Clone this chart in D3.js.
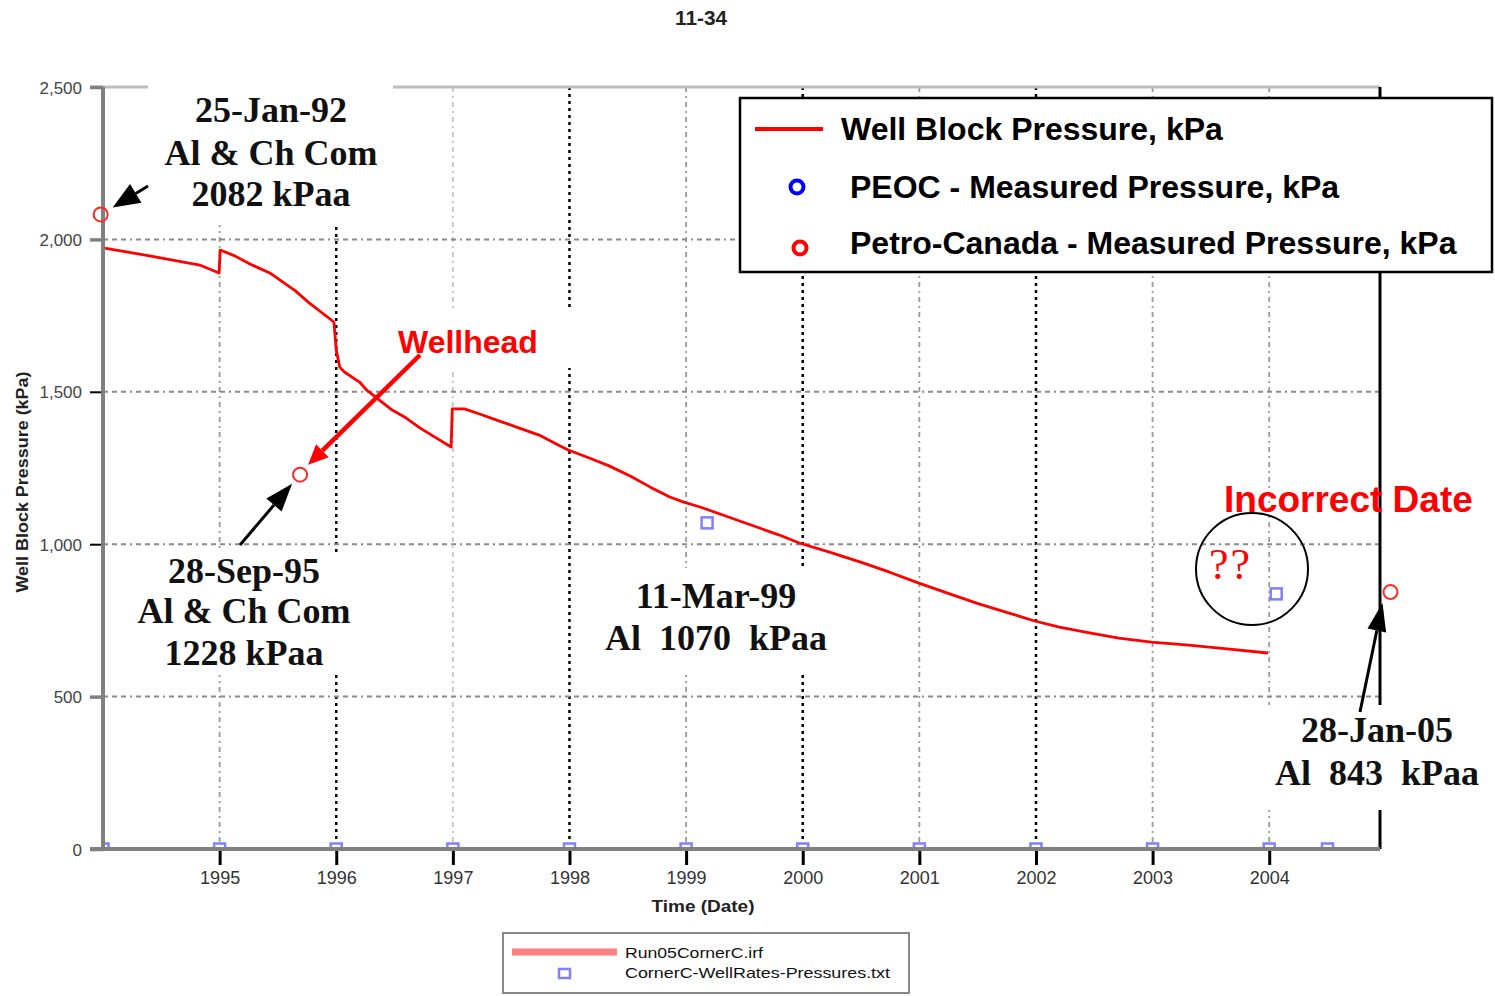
<!DOCTYPE html>
<html>
<head>
<meta charset="utf-8">
<script src="https://cdn.jsdelivr.net/npm/d3@7"></script>
<style>
  body { margin: 0; background: #fff; }
  svg { display: block; }
  .serif { font-family: "Liberation Serif", "Times New Roman", serif; font-weight: bold; white-space: pre; }
  .sans { font-family: "Liberation Sans", Arial, sans-serif; }
</style>
</head>
<body>
<svg id="chart" width="1495" height="996"></svg>
<script>
// Simulated well block pressure, decimal year vs kPa
const blockTime = [1994.00, 1994.40, 1994.83, 1994.995, 1995.005, 1995.13, 1995.26, 1995.43, 1995.65, 1995.77,
  1995.98, 1996.00, 1996.03, 1996.07, 1996.20, 1996.26, 1996.37, 1996.48, 1996.60, 1996.72,
  1996.86, 1996.985, 1996.995, 1997.10, 1997.23, 1997.40, 1997.57, 1997.74, 1997.92, 1997.99,
  1998.17, 1998.34, 1998.52, 1998.69, 1998.86, 1998.98, 1999.12, 1999.29, 1999.46, 1999.63,
  1999.80, 1999.97, 2000.23, 2000.49, 2000.74, 2000.99, 2001.26, 2001.51, 2001.77, 2001.99,
  2002.20, 2002.46, 2002.71, 2002.99, 2003.31, 2003.66, 2003.99];
const blockPressure = [1972, 1946, 1916, 1890, 1965, 1946, 1919, 1890, 1831, 1791,
  1729, 1637, 1581, 1565, 1532, 1506, 1473, 1440, 1414, 1381,
  1348, 1319, 1444, 1444, 1427, 1404, 1381, 1358, 1322, 1309,
  1283, 1257, 1224, 1188, 1155, 1138, 1122, 1099, 1076, 1053,
  1030, 1004, 974, 942, 909, 873, 837, 804, 774, 748,
  728, 709, 692, 679, 669, 656, 643];

// PEOC measured pressures (CornerC-WellRates-Pressures.txt)
const peocTime = [1994.0, 1995, 1996, 1997, 1998, 1999, 2000, 2001, 2002, 2003, 2004, 2004.5, 1999.18, 2004.06];
const peocPressure = [0, 0, 0, 0, 0, 0, 0, 0, 0, 0, 0, 0, 1070, 837];

// Petro-Canada measured pressures
const pcTime = [1993.98, 1995.69, 2005.04];
const pcPressure = [2082, 1228, 843];

// Axis ticks
const yearTicks = [1995, 1996, 1997, 1998, 1999, 2000, 2001, 2002, 2003, 2004];
const majorGridYears = [1996, 1998, 2000, 2002];
const pressureTicks = [0, 500, 1000, 1500, 2000, 2500];

// Legend labels
const legendLabels = ["Well Block Pressure, kPa", "PEOC - Measured Pressure, kPa", "Petro-Canada - Measured Pressure, kPa"];
const fileLabels = ["Run05CornerC.irf", "CornerC-WellRates-Pressures.txt"];

const svg = d3.select("#chart");
const x = d3.scaleLinear().domain([1994, 2004.95]).range([103, 1380]);
const y = d3.scaleLinear().domain([0, 2500]).range([849, 87]);
const [xL, xR] = x.range();
const [yB, yT] = y.range();

svg.append("defs").append("clipPath").attr("id", "plot")
  .append("rect").attr("x", xL).attr("y", yT).attr("width", xR - xL).attr("height", yB - yT);

// Vertical grid
svg.append("g").selectAll("line").data(yearTicks).join("line")
  .attr("x1", d => x(d)).attr("x2", d => x(d))
  .attr("y1", yT).attr("y2", yB)
  .attr("stroke", d => majorGridYears.includes(d) ? "#000" : (d === 1997 ? "#c4c4c4" : "#9a9a9a"))
  .attr("stroke-width", d => majorGridYears.includes(d) ? 2.5 : 1.8)
  .attr("stroke-dasharray", d => majorGridYears.includes(d) ? "3,4" : "5,4,2,4");

// Horizontal grid
svg.append("g").selectAll("line").data(pressureTicks.filter(v => v > 0 && v < 2500)).join("line")
  .attr("x1", xL).attr("x2", xR)
  .attr("y1", d => y(d)).attr("y2", d => y(d))
  .attr("stroke", "#8a8a8a").attr("stroke-width", 2)
  .attr("stroke-dasharray", "5,4,5,4,5,4,2,4");

// Top border
svg.append("line").attr("x1", 90).attr("x2", xR).attr("y1", yT).attr("y2", yT)
  .attr("stroke", "#bdbdbd").attr("stroke-width", 3);

// Right border
svg.append("line").attr("x1", xR).attr("x2", xR).attr("y1", yT).attr("y2", yB)
  .attr("stroke", "#000").attr("stroke-width", 3);

// White backgrounds behind annotation text
const boxes = [[148, 80, 245, 145], [345, 310, 235, 58], [130, 552, 232, 123], [600, 568, 232, 107], [1265, 705, 225, 105]];
svg.append("g").selectAll("rect").data(boxes).join("rect")
  .attr("x", d => d[0]).attr("y", d => d[1]).attr("width", d => d[2]).attr("height", d => d[3])
  .attr("fill", "#fff");

// Legend (top right)
const lg = svg.append("g");
lg.append("rect").attr("x", 740).attr("y", 98).attr("width", 752).attr("height", 174)
  .attr("fill", "#fff").attr("stroke", "#000").attr("stroke-width", 2.5);
lg.append("line").attr("x1", 755).attr("x2", 823).attr("y1", 129).attr("y2", 129)
  .attr("stroke", "#ff0000").attr("stroke-width", 4);
lg.append("circle").attr("cx", 797).attr("cy", 187).attr("r", 6.5)
  .attr("fill", "none").attr("stroke", "#0000ff").attr("stroke-width", 4);
lg.append("circle").attr("cx", 800).attr("cy", 248).attr("r", 6.5)
  .attr("fill", "none").attr("stroke", "#ff0000").attr("stroke-width", 4);
lg.selectAll("text").data(legendLabels).join("text")
  .attr("class", "sans")
  .attr("x", (d, i) => i === 0 ? 841 : 850)
  .attr("y", (d, i) => [140, 198, 254][i])
  .attr("font-size", 32).attr("font-weight", "bold").attr("fill", "#000")
  .text(d => d);

// Data
const plot = svg.append("g").attr("clip-path", "url(#plot)");
const line = d3.line().x(d => x(d[0])).y(d => y(d[1]));
plot.append("path")
  .datum(blockTime.map((t, i) => [t, blockPressure[i]]))
  .attr("d", line).attr("fill", "none")
  .attr("stroke", "#ff0000").attr("stroke-width", 2.8).attr("stroke-linejoin", "round");

plot.selectAll("rect.peoc").data(peocTime.map((t, i) => [t, peocPressure[i]])).join("rect")
  .attr("class", "peoc")
  .attr("x", d => x(d[0]) - 5.5).attr("y", d => y(d[1]) - 5.5)
  .attr("width", 11).attr("height", 11)
  .attr("fill", "#fff").attr("stroke", "#8080ff").attr("stroke-width", 2.5);

// Axes
const yAxis = svg.append("g").attr("transform", `translate(${xL},0)`)
  .call(d3.axisLeft(y).tickValues(pressureTicks).tickFormat(d3.format(",")).tickSize(13).tickPadding(8));
yAxis.select(".domain").remove();
yAxis.selectAll(".tick line")
  .attr("stroke", d => (d === 1000 || d === 1500) ? "#000" : "#808080")
  .attr("stroke-width", d => (d === 1000 || d === 1500) ? 2 : 3.5);
yAxis.selectAll(".tick text")
  .attr("class", "sans").attr("font-size", 17).attr("fill", "#444").attr("dy", "0.36em");

const xAxis = svg.append("g").attr("transform", `translate(0,${yB})`)
  .call(d3.axisBottom(x).tickValues(yearTicks).tickFormat(d3.format("d")).tickSize(16).tickPadding(6));
xAxis.select(".domain").remove();
xAxis.selectAll(".tick line").attr("stroke", "#000").attr("stroke-width", 3);
xAxis.selectAll(".tick text")
  .attr("class", "sans").attr("font-size", 18).attr("fill", "#333");

svg.append("line").attr("x1", xL).attr("x2", xL).attr("y1", yT).attr("y2", yB)
  .attr("stroke", "#808080").attr("stroke-width", 4);
svg.append("line").attr("x1", 90).attr("x2", xR).attr("y1", yB).attr("y2", yB)
  .attr("stroke", "#808080").attr("stroke-width", 4);

// Petro-Canada measurements
svg.append("g").selectAll("circle").data(pcTime.map((t, i) => [t, pcPressure[i]])).join("circle")
  .attr("cx", d => x(d[0])).attr("cy", d => y(d[1])).attr("r", 7)
  .attr("fill", "none").attr("stroke", "#ff2a2a").attr("stroke-width", 2);

// Axis titles and title
svg.append("text").attr("class", "sans").attr("x", 701).attr("y", 25)
  .attr("text-anchor", "middle").attr("font-size", 21).attr("font-weight", "bold").attr("fill", "#222")
  .attr("textLength", 52).attr("lengthAdjust", "spacingAndGlyphs").text("11-34");
svg.append("text").attr("class", "sans").attr("x", 703).attr("y", 912)
  .attr("text-anchor", "middle").attr("font-size", 16).attr("font-weight", "bold").attr("fill", "#222")
  .attr("textLength", 103).attr("lengthAdjust", "spacingAndGlyphs").text("Time (Date)");
svg.append("text").attr("class", "sans")
  .attr("transform", "translate(28,482) rotate(-90)")
  .attr("text-anchor", "middle").attr("font-size", 16).attr("font-weight", "bold").attr("fill", "#222")
  .attr("textLength", 221).attr("lengthAdjust", "spacingAndGlyphs").text("Well Block Pressure (kPa)");

// Arrows
function arrow(x1, y1, x2, y2, color, width, headLen, headWidth) {
  const a = Math.atan2(y2 - y1, x2 - x1);
  const bx = x2 - headLen * Math.cos(a), by = y2 - headLen * Math.sin(a);
  const nx = -Math.sin(a) * headWidth / 2, ny = Math.cos(a) * headWidth / 2;
  const g = svg.append("g");
  g.append("line").attr("x1", x1).attr("y1", y1).attr("x2", bx).attr("y2", by)
    .attr("stroke", color).attr("stroke-width", width);
  g.append("polygon")
    .attr("points", `${x2},${y2} ${bx + nx},${by + ny} ${bx - nx},${by - ny}`)
    .attr("fill", color);
}
const pc = pcTime.map((t, i) => [x(t), y(pcPressure[i])]);
arrow(148, 186, pc[0][0] + 12, pc[0][1] - 7, "#000", 3, 27, 22);
arrow(420, 355, pc[1][0] + 8, pc[1][1] - 10, "#ff0000", 4.5, 20, 18);
arrow(240, 545, pc[1][0] - 8, pc[1][1] + 9, "#000", 3, 28, 20);
arrow(1360, 712, pc[2][0] - 8, pc[2][1] + 11, "#000", 3, 28, 19);

// Annotation text
const serifNotes = [
  [271, 122, "25-Jan-92"], [271, 165, "Al & Ch Com"], [271, 206, "2082 kPaa"],
  [244, 583, "28-Sep-95"], [244, 623, "Al & Ch Com"], [244, 665, "1228 kPaa"],
  [716, 608, "11-Mar-99"], [716, 650, "Al  1070  kPaa"],
  [1377, 742, "28-Jan-05"], [1377, 785, "Al  843  kPaa"]
];
svg.append("g").selectAll("text").data(serifNotes).join("text")
  .attr("class", "serif").attr("x", d => d[0]).attr("y", d => d[1])
  .attr("text-anchor", "middle").attr("font-size", 36).attr("fill", "#111")
  .text(d => d[2]);

svg.append("text").attr("class", "sans").attr("x", 398).attr("y", 353)
  .attr("font-size", 32).attr("font-weight", "bold").attr("fill", "#ff0000").text("Wellhead");
svg.append("text").attr("class", "sans").attr("x", 1224).attr("y", 512)
  .attr("font-size", 37).attr("font-weight", "bold").attr("fill", "#ff0000").text("Incorrect Date");

svg.append("circle").attr("cx", 1252).attr("cy", 569).attr("r", 56)
  .attr("fill", "none").attr("stroke", "#000").attr("stroke-width", 2);
svg.append("text").attr("x", 1209).attr("y", 579)
  .attr("font-family", "'Liberation Serif', serif").attr("font-size", 44)
  .attr("letter-spacing", 2).attr("fill", "#ff0000").text("??");

// File legend (bottom)
const fl = svg.append("g");
fl.append("rect").attr("x", 503).attr("y", 933).attr("width", 406).attr("height", 60)
  .attr("fill", "#fff").attr("stroke", "#888").attr("stroke-width", 2);
fl.append("line").attr("x1", 512).attr("x2", 617).attr("y1", 952).attr("y2", 952)
  .attr("stroke", "#ff8080").attr("stroke-width", 7);
fl.append("rect").attr("x", 559).attr("y", 969).attr("width", 11).attr("height", 9)
  .attr("fill", "#fff").attr("stroke", "#8080ff").attr("stroke-width", 2.5);
fl.selectAll("text").data(fileLabels).join("text")
  .attr("class", "sans").attr("x", 625).attr("y", (d, i) => i === 0 ? 958 : 978)
  .attr("font-size", 15).attr("fill", "#111")
  .attr("textLength", (d, i) => i === 0 ? 138 : 265).attr("lengthAdjust", "spacingAndGlyphs")
  .text(d => d);
</script>
</body>
</html>
